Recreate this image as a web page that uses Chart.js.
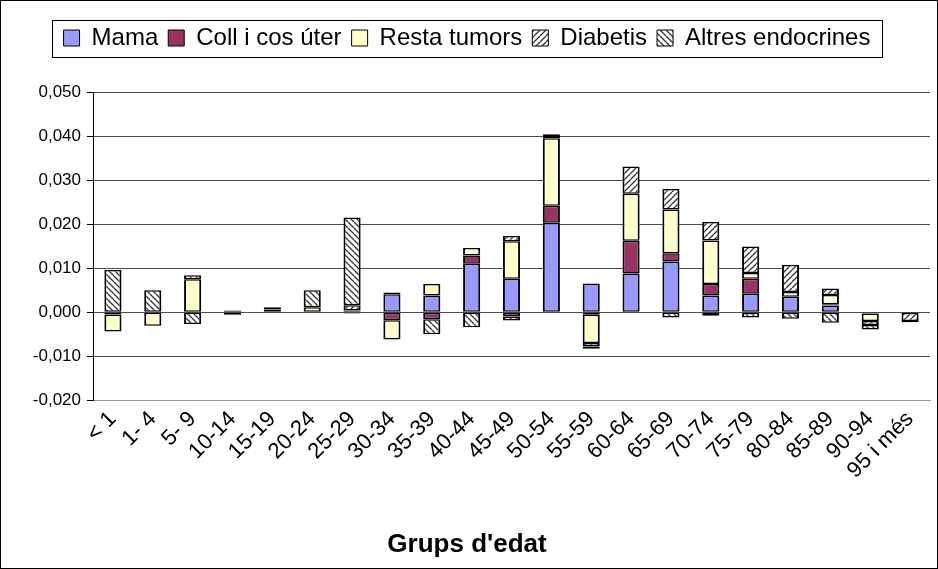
<!DOCTYPE html>
<html><head><meta charset="utf-8">
<script src="https://cdn.jsdelivr.net/npm/chart.js@4.4.1/dist/chart.umd.min.js"></script>
<style>html,body{margin:0;padding:0;background:#fff}#wrap{width:938px;height:569px;position:relative}</style>
</head><body><div id="wrap"><canvas id="c" width="938" height="569"></canvas></div>
<script>
const categories = ['< 1','1- 4','5- 9','10-14','15-19','20-24','25-29','30-34','35-39','40-44','45-49','50-54','55-59','60-64','65-69','70-74','75-79','80-84','85-89','90-94','95 i més'];
const seriesNames = ['Mama','Coll i cos úter','Resta tumors','Diabetis','Altres endocrines'];
const mama     = [-0.0005, 0, 0, 0, 0, 0, 0, 0.0041, 0.0038, 0.0110, 0.0076, 0.0203, 0.0065, 0.0088, 0.0115, 0.0038, 0.0042, 0.0035, 0.0015, -0.0003, -0.0002];
const collUter = [0, 0, 0, 0, 0, 0, -0.0003, -0.0018, -0.0016, 0.0019, -0.0010, 0.0039, -0.0006, 0.0074, 0.0019, 0.0026, 0.0034, 0, 0.0003, 0, 0];
const resta    = [-0.0039, -0.0031, 0.0075, 0.0004, 0.0006, 0.0011, 0.0004, -0.0044, 0.0026, 0.0017, 0.0085, 0.0153, -0.0064, 0.0107, 0.0099, 0.0099, 0.0013, 0.0011, 0.0021, -0.0017, 0];
const diabetis = [0, 0, 0.0009, 0, 0.0005, 0, 0.0012, 0.0004, 0, 0, 0.0012, 0.0005, -0.0008, 0.0062, 0.0047, 0.0042, 0.0060, 0.0061, 0.0015, -0.0009, -0.0018];
const altres   = [0.0096, 0.0050, -0.0027, -0.0006, 0, 0.0039, 0.0199, 0, -0.0034, -0.0034, -0.0009, 0.0004, -0.0005, 0, -0.0012, -0.0008, -0.0012, -0.0015, -0.0024, -0.0010, -0.0003];
const yMin = -0.02, yMax = 0.05, yStep = 0.01;
const xTitle = "Grups d'edat";

Chart.defaults.font.family = "'Liberation Sans', Arial, sans-serif";
const canvas = document.getElementById('c');
const ctx = canvas.getContext('2d');

function hatch(dir){
  const s = 6;
  const c = document.createElement('canvas'); c.width = s; c.height = s;
  const g = c.getContext('2d');
  g.fillStyle = '#fff'; g.fillRect(0,0,s,s);
  g.strokeStyle = '#333'; g.lineWidth = 1.3;
  g.beginPath();
  for (let i = -1; i <= 1; i++) {
    if (dir === '/') { g.moveTo(i*s, s); g.lineTo(i*s + s, 0); }
    else { g.moveTo(i*s, 0); g.lineTo(i*s + s, s); }
  }
  g.stroke();
  return ctx.createPattern(c, 'repeat');
}

const frame = {
  id: 'frame',
  afterDraw(chart){
    const c = chart.ctx; c.save();
    c.strokeStyle = '#000'; c.lineWidth = 1;
    const hb = chart.legend.legendHitBoxes;
    if (hb && hb.length) {
      const l = hb[0].left - 12;
      const last = hb[hb.length-1];
      const r = last.left + last.width + 11;
      c.strokeRect(Math.round(l)+0.5, 20.5, Math.round(r-l), 37);
    }
    c.strokeRect(0.5, 0.5, 937, 568);
    c.restore();
  }
};

new Chart(ctx, {
  type: 'bar',
  data: {
    labels: categories,
    datasets: [
      {label: seriesNames[0], data: mama, backgroundColor: '#9999FF'},
      {label: seriesNames[1], data: collUter, backgroundColor: '#993366'},
      {label: seriesNames[2], data: resta, backgroundColor: '#FFFFCC'},
      {label: seriesNames[3], data: diabetis, backgroundColor: hatch('/')},
      {label: seriesNames[4], data: altres, backgroundColor: hatch('\\')}
    ]
  },
  options: {
    responsive: false,
    animation: false,
    layout: {padding: {left: 4, right: 8, top: 16, bottom: 9}},
    datasets: {bar: {borderColor: '#000', borderWidth: {left: 2, right: 2, top: 1.5, bottom: 1.5}, borderSkipped: false, barPercentage: 0.43, categoryPercentage: 1}},
    scales: {
      x: {
        stacked: true,
        grid: {display: false, drawTicks: false},
        border: {display: true, color: '#999', width: 1},
        ticks: {minRotation: 45, maxRotation: 45, autoSkip: false, color: '#000', font: {size: 22}, padding: 6},
        afterFit(s){ s.height = 128.5; }
      },
      y: {
        stacked: true, min: yMin, max: yMax,
        ticks: {stepSize: yStep, color: '#000', font: {size: 17}, padding: 6,
          callback: v => { let r = Math.round(v*1000)/1000; if (Math.abs(r) < 1e-9) r = 0; return r.toFixed(3).replace('.', ','); }},
        grid: {color: c => (c.tick && c.tick.value <= yMin + 1e-9) ? '#a0a0a0' : '#4d4d4d', tickColor: '#000', tickLength: 6, lineWidth: 1},
        border: {color: '#000', width: 1},
        afterFit(s){ s.width = 89; }
      }
    },
    plugins: {
      legend: {
        position: 'top', weight: 3000,
        labels: {
          boxWidth: 16, boxHeight: 16, padding: 10, color: '#000', font: {size: 24},
          generateLabels(chart){
            const items = Chart.defaults.plugins.legend.labels.generateLabels(chart);
            items.forEach(it => { it.lineWidth = 1; it.strokeStyle = '#000'; });
            return items;
          }
        }
      },
      subtitle: {display: true, text: ' ', padding: {top: 31, bottom: 0}, font: {size: 1, lineHeight: 1}},
      title: {display: true, position: 'bottom', text: xTitle, color: '#000', font: {size: 26, weight: 'bold', lineHeight: 1.2}, padding: 0},
      tooltip: {enabled: false}
    }
  },
  plugins: [frame]
});
</script>
</body></html>
